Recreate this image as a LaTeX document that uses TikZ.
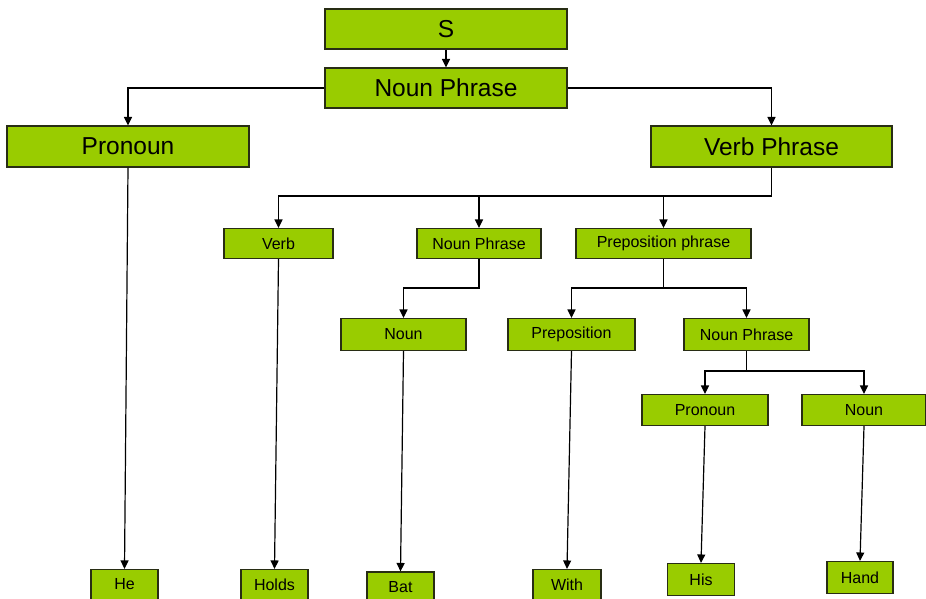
\documentclass[tikz,border=0pt]{standalone}
\usepackage{fontspec}
\setmainfont{Liberation Sans}
\usetikzlibrary{arrows.meta}
\definecolor{boxgreen}{RGB}{153,204,0}
\definecolor{boxedge}{RGB}{40,45,20}
\begin{document}
\begin{tikzpicture}[x=1pt,y=-1pt,
  tbox/.style={draw=boxedge, fill=boxgreen, line width=1.1pt, inner sep=0pt, text=black},
  bigbox/.style={tbox, minimum width=242pt, minimum height=40pt, font=\fontsize{24.5}{26}\selectfont},
  smallbox/.style={tbox, font=\fontsize{16}{18}\selectfont},
  link/.style={draw=black, line width=1.2pt, line join=miter},
  arr/.style={link, -{Triangle[length=8.5pt,width=8pt]}}]
\useasboundingbox (0,0) rectangle (926,598);
\clip (0,0) rectangle (926,598);

% phrase levels
\node[bigbox] (s) at (446,29) {S};
\node[bigbox] (np) at (446,88) {Noun Phrase};
\node[bigbox, minimum height=41pt] (pron) at (128,146.5) {Pronoun};
\node[bigbox, minimum width=241pt, minimum height=41pt] (vp) at (771.5,146.5) {Verb Phrase};

\node[smallbox, minimum width=109pt, minimum height=30pt] (verb) at (278.5,243.5) {Verb};
\node[smallbox, minimum width=124pt, minimum height=30pt] (np2) at (479,243.5) {Noun Phrase};
\node[smallbox, minimum width=175pt, minimum height=30pt] (pp) at (663.5,243.5) {Preposition phrase};

\node[smallbox, minimum width=125pt, minimum height=32pt] (noun) at (403.5,334.5) {Noun};
\node[smallbox, minimum width=127pt, minimum height=32pt] (prep) at (571.5,334.5) {Preposition};
\node[smallbox, minimum width=125pt, minimum height=32pt] (np3) at (746.5,334.5) {Noun Phrase};

\node[smallbox, minimum width=126pt, minimum height=31pt] (pron2) at (705,410) {Pronoun};
\node[smallbox, minimum width=124pt, minimum height=31pt] (noun2) at (864,410) {Noun};

% words
\node[smallbox, minimum width=67pt, minimum height=30pt] (he) at (124.5,584.5) {He};
\node[smallbox, minimum width=67pt, minimum height=30pt] (holds) at (274.5,584.5) {Holds};
\node[smallbox, minimum width=67pt, minimum height=30pt] (bat) at (400.5,587) {Bat};
\node[smallbox, minimum width=68pt, minimum height=30pt] (with) at (567,584.5) {With};
\node[smallbox, minimum width=67pt, minimum height=32pt] (his) at (701,579.5) {His};
\node[smallbox, minimum width=66pt, minimum height=32pt] (hand) at (860,577.5) {Hand};

% junction points of the branching connectors
\coordinate (vpj) at (771.5,196);
\coordinate (np2j) at (479,288);
\coordinate (ppj) at (663.5,288);
\coordinate (np3j) at (746.5,371);

% connectors
\draw[arr] (s) -- (np);
\draw[arr] (np.west) -| (pron.north);
\draw[arr] (np.east) -| (vp.north);

\draw[arr] (vp.south) -- (vpj) -| (verb.north);
\draw[arr] (vpj -| np2.north) -- (np2.north);
\draw[arr] (vpj -| pp.north) -- (pp.north);

\draw[arr] (np2.south) -- (np2j) -| (noun.north);

\draw[arr] (pp.south) -- (ppj) -| (prep.north);
\draw[arr] (ppj) -| (np3.north);

\draw[arr] (np3.south) -- (np3j) -| (pron2.north);
\draw[arr] (np3j) -| (noun2.north);

\draw[arr] (pron.south) -- (he.north);
\draw[arr] (verb.south) -- (holds.north);
\draw[arr] (noun.south) -- (bat.north);
\draw[arr] (prep.south) -- (with.north);
\draw[arr] (pron2.south) -- (his.north);
\draw[arr] (noun2.south) -- (hand.north);
\end{tikzpicture}
\end{document}
